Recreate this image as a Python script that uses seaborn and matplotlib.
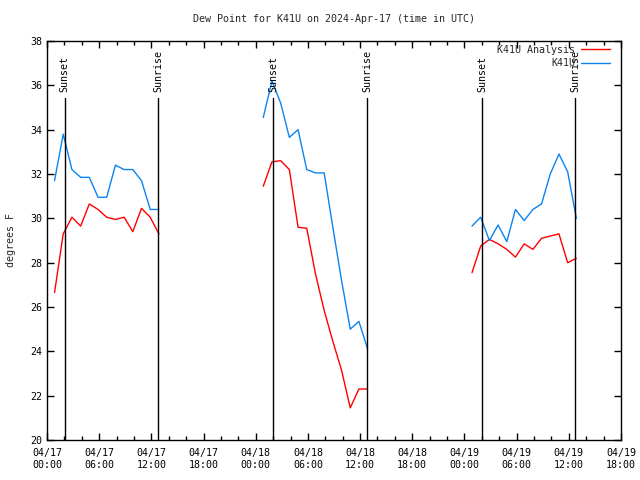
import pandas as pd
import matplotlib
matplotlib.use("Agg")
import matplotlib.pyplot as plt
import matplotlib.dates as mdates
import seaborn as sns

# hourly obs, three overnight windows (UTC)
day_starts = ["2024-04-17", "2024-04-18", "2024-04-19"]
obs_minutes = 52
obs_hours = list(range(0, 13))

analysis_1 = [26.65, 29.3, 30.05, 29.65, 30.65, 30.4, 30.05, 29.95, 30.05, 29.4, 30.45, 30.05, 29.3]
analysis_2 = [31.45, 32.55, 32.6, 32.2, 29.6, 29.55, 27.5, 25.85, 24.45, 23.15, 21.45, 22.3, 22.3]
analysis_3 = [27.55, 28.75, 29.05, 28.85, 28.6, 28.25, 28.85, 28.6, 29.1, 29.2, 29.3, 28.0, 28.2]

obs_1 = [31.7, 33.8, 32.2, 31.85, 31.85, 30.95, 30.95, 32.4, 32.2, 32.2, 31.7, 30.4, 30.4]
obs_2 = [34.55, 36.2, 35.2, 33.65, 34.0, 32.2, 32.05, 32.05, 29.6, 27.2, 25.0, 25.35, 24.1]
obs_3 = [29.65, 30.05, 29.0, 29.7, 28.95, 30.4, 29.9, 30.4, 30.65, 32.0, 32.9, 32.1, 30.0]

sunset_times = ["2024-04-17 02:01", "2024-04-18 02:02", "2024-04-19 02:03"]
sunrise_times = ["2024-04-17 12:48", "2024-04-18 12:47", "2024-04-19 12:45"]

x_start = "2024-04-17 00:00"
x_end = "2024-04-19 18:00"
y_ticks = [20, 22, 24, 26, 28, 30, 32, 34, 36, 38]
sun_line_top = 35.45

rows = []
for seg, (day, a_vals, o_vals) in enumerate(zip(day_starts,
                                               [analysis_1, analysis_2, analysis_3],
                                               [obs_1, obs_2, obs_3])):
    for h, a, o in zip(obs_hours, a_vals, o_vals):
        t = pd.Timestamp(day) + pd.Timedelta(hours=h, minutes=obs_minutes)
        rows.append({"time": t, "dewpt": a, "series": "K41U Analysis", "seg": seg})
        rows.append({"time": t, "dewpt": o, "series": "K41U", "seg": seg})
df = pd.DataFrame(rows)

sns.set_theme(style="white")
plt.rcParams["font.family"] = ["DejaVu Sans Mono"]
plt.rcParams["font.size"] = 7.2

fig = plt.figure(figsize=(6.4, 4.8), dpi=100)
ax = fig.add_axes([47 / 640, 1 - 440 / 480, 574 / 640, 399 / 480])

sns.lineplot(
    data=df,
    x="time",
    y="dewpt",
    hue="series",
    hue_order=["K41U Analysis", "K41U"],
    palette={"K41U Analysis": "#ff0000", "K41U": "#0b84f0"},
    units="seg",
    estimator=None,
    linewidth=1.0,
    ax=ax
)

for t in sunset_times + sunrise_times:
    ts = pd.Timestamp(t)
    label = "Sunset" if t in sunset_times else "Sunrise"
    ax.plot([ts, ts], [20, sun_line_top], color="black", linewidth=1.0)
    ax.text(ts, sun_line_top + 0.25, label, rotation=90,
            ha="center", va="bottom", fontsize=7.2, color="black")

ax.set_xlim(pd.Timestamp(x_start), pd.Timestamp(x_end))
ax.set_ylim(y_ticks[0], y_ticks[-1])
ax.set_yticks(y_ticks)

ax.xaxis.set_major_locator(mdates.HourLocator(byhour=[0, 6, 12, 18]))
ax.xaxis.set_minor_locator(mdates.HourLocator(interval=2))
ax.xaxis.set_major_formatter(mdates.DateFormatter("%m/%d\n%H:%M"))

ax.tick_params(axis="both", which="both", direction="in",
               top=True, right=True, bottom=True, left=True,
               colors="black", labelsize=7.2)
ax.tick_params(which="major", length=5, width=1)
ax.tick_params(which="minor", length=3, width=1)
ax.tick_params(axis="x", pad=6)

for sp in ax.spines.values():
    sp.set_color("black")
    sp.set_linewidth(1.0)

ax.set_xlabel("")
ax.set_ylabel("degrees F", fontsize=7.2, labelpad=10)
ax.set_title("Dew Point for K41U on 2024-Apr-17 (time in UTC)",
             fontsize=7.2, pad=14)

ax.legend(loc="upper right", bbox_to_anchor=(0.988, 1.0),
          frameon=False, markerfirst=False,
          handlelength=2.9, handletextpad=0.6, borderaxespad=0.0,
          labelspacing=0.35, fontsize=7.2)

fig.savefig("out.png", dpi=100)
